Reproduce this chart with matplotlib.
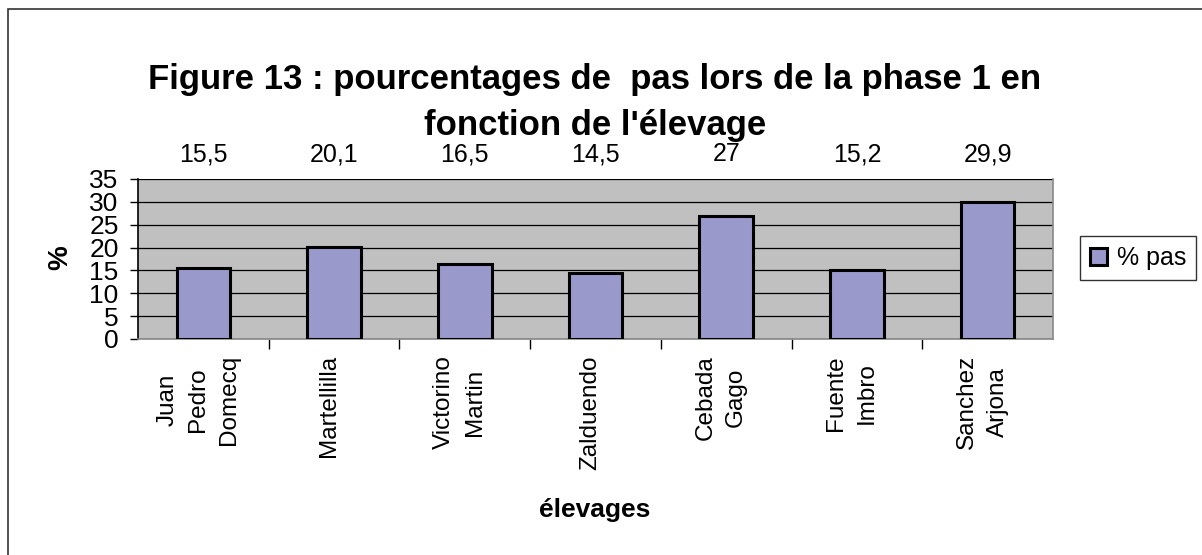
import matplotlib.pyplot as plt
import matplotlib.transforms as mtransforms
from matplotlib.patches import Rectangle

plt.rcParams['font.family'] = ['Liberation Sans', 'DejaVu Sans']

elevages = ["Juan\nPedro\nDomecq", "Martellilla", "Victorino\nMartin", "Zalduendo",
            "Cebada\nGago", "Fuente\nImbro", "Sanchez\nArjona"]
pct_pas = [15.5, 20.1, 16.5, 14.5, 27, 15.2, 29.9]
val_labels = ["15,5", "20,1", "16,5", "14,5", "27", "15,2", "29,9"]
yticks = [0, 5, 10, 15, 20, 25, 30, 35]

fig = plt.figure(figsize=(12.02, 5.55), dpi=100)
W, H = 1202, 555

# outer chart frame (only left/top visible in the original)
fig.patches.append(Rectangle((8 / W, -0.1), 1.2, 1 - 9 / H + 0.1, transform=fig.transFigure,
                             fill=False, edgecolor='#333333', linewidth=1.2))

ax = fig.add_axes([138 / W, 1 - 339 / H, (1053 - 138) / W, (339 - 179) / H])
ax.set_facecolor('#c0c0c0')

x = list(range(len(pct_pas)))
bars = ax.bar(x, pct_pas, width=0.41, color='#9999cc', edgecolor='black',
              linewidth=2.2, label='% pas', zorder=3)

ax.set_ylim(0, 35)
ax.set_xlim(-0.5, len(pct_pas) - 0.5)
ax.set_yticks(yticks)
ax.set_yticklabels([str(t) for t in yticks], fontsize=19)
ax.yaxis.grid(True, color='black', linewidth=0.9, zorder=1)
ax.set_axisbelow(True)

# category ticks between the bars
ax.set_xticks([i + 0.5 for i in x[:-1]])
ax.set_xticklabels([])
ax.tick_params(axis='x', direction='out', length=7, width=1, color='black')
ax.tick_params(axis='y', direction='out', length=6, width=1, pad=8, color='black')

for s in ['top', 'right', 'bottom']:
    ax.spines[s].set_color('#888888')
    ax.spines[s].set_linewidth(1.2)
ax.spines['left'].set_color('black')
ax.spines['left'].set_linewidth(1.2)
ax.spines['top'].set_visible(False)

# category labels, rotated
lab_trans = mtransforms.blended_transform_factory(ax.transData, ax.transAxes)
for i, name in enumerate(elevages):
    ax.text(i - 0.04, -0.1, name, transform=lab_trans,
            rotation=90, ha='center', va='top', multialignment='center',
            fontsize=17.5, linespacing=1.5)

# value labels above plot area
for i, lab in enumerate(val_labels):
    ax.text(i, 1.11, lab, transform=lab_trans, ha='center', va='baseline', fontsize=18)

fig.text(595 / W, 1 - 102 / H, "Figure 13 : pourcentages de  pas lors de la phase 1 en\nfonction de l'élevage",
         ha='center', va='center', fontsize=25, fontweight='bold', linespacing=1.5)

fig.text(60 / W, 1 - 258 / H, "%", rotation=90, ha='center', va='center',
         fontsize=20, fontweight='bold')
fig.text(595 / W, 1 - 510 / H, "élevages", ha='center', va='center',
         fontsize=19, fontweight='bold')

leg = fig.legend(handles=[bars], labels=['% pas'], loc='center',
                 bbox_to_anchor=(1138 / W, 1 - 258 / H), fontsize=18,
                 frameon=True, fancybox=False, edgecolor='black',
                 handlelength=0.7, handleheight=0.7, handletextpad=0.4,
                 borderpad=0.4)
leg.get_frame().set_linewidth(1.0)

fig.savefig('out.png', dpi=100)
